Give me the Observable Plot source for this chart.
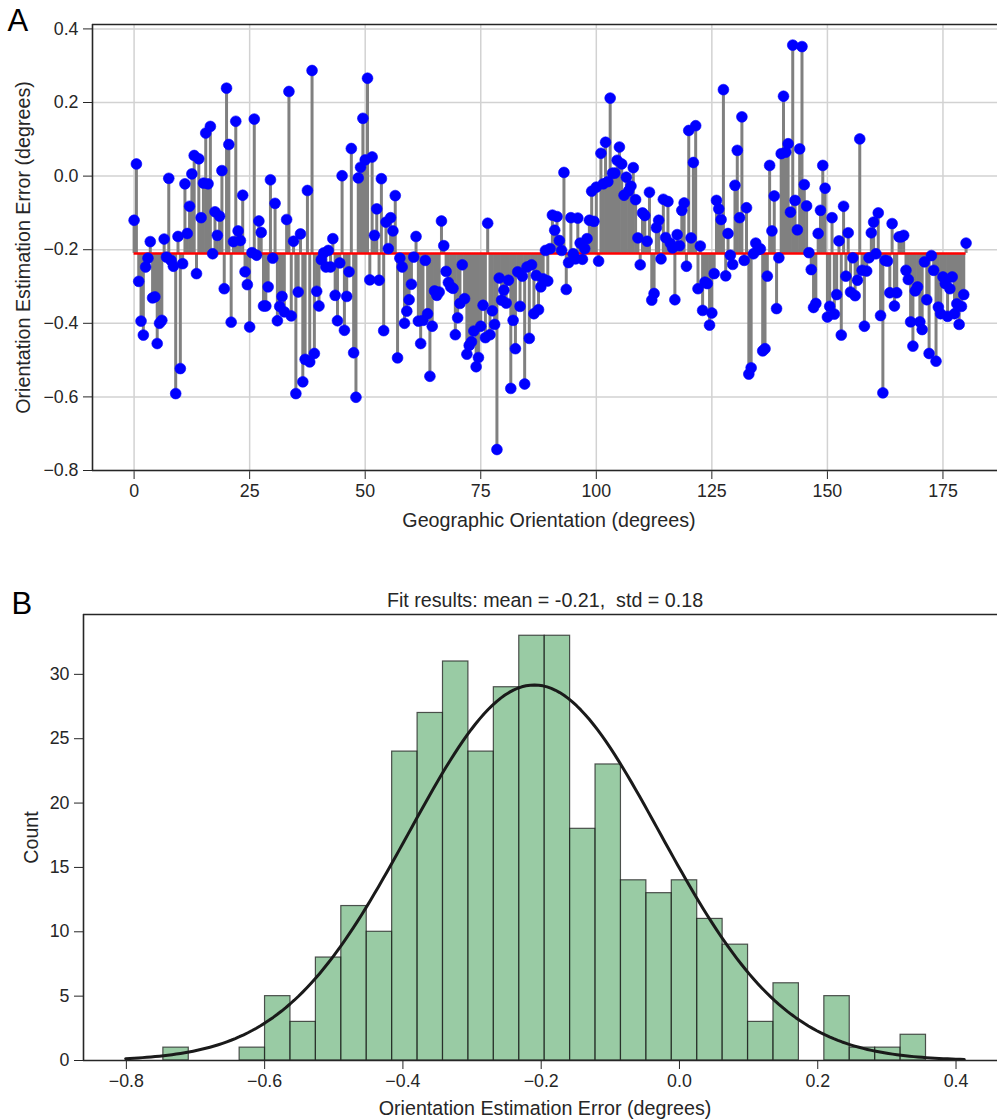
<!DOCTYPE html>
<html>
<head>
<meta charset="utf-8">
<script src="https://cdn.jsdelivr.net/npm/d3@7"></script>
<script src="https://cdn.jsdelivr.net/npm/@observablehq/plot@0.6"></script>
<style>
  body { margin: 0; background: #fff; }
  #wrap { position: relative; width: 997px; height: 1119px; overflow: hidden; }
  #wrap svg { display: block; }
</style>
</head>
<body>
<div id="wrap"></div>
<script>
// ---------- Panel A data ----------
const stepDeg = 0.5; // sampling of geographic orientation
const errors = [
 -0.120, 0.033, -0.286, -0.394, -0.432, -0.247, -0.223, -0.178, -0.331, -0.328,
 -0.455, -0.400, -0.392, -0.171, -0.220, -0.006, -0.229, -0.245, -0.591, -0.164,
 -0.523, -0.238, -0.021, -0.156, -0.082, 0.006, 0.056, -0.265, 0.047, -0.113,
 -0.019, 0.117, -0.021, 0.135, -0.211, -0.097, -0.161, -0.109, 0.015, -0.306,
 0.239, 0.086, -0.397, -0.178, 0.149, -0.149, -0.175, -0.052, -0.260, -0.295,
 -0.410, -0.208, 0.155, -0.215, -0.122, -0.153, -0.353, -0.353, -0.301, -0.010,
 -0.223, -0.074, -0.393, -0.354, -0.327, -0.369, -0.118, 0.230, -0.380, -0.177,
 -0.591, -0.315, -0.157, -0.559, -0.498, -0.039, -0.505, 0.287, -0.482, -0.313,
 -0.353, -0.227, -0.209, -0.247, -0.202, -0.247, -0.170, -0.324, -0.393, -0.236,
 0.001, -0.419, -0.327, -0.260, 0.075, -0.480, -0.601, -0.005, 0.024, 0.157,
 0.044, 0.266, -0.282, 0.052, -0.161, -0.089, -0.283, -0.007, -0.420, -0.125,
 -0.197, -0.113, -0.149, -0.053, -0.494, -0.223, -0.247, -0.400, -0.367, -0.336,
 -0.294, -0.220, -0.164, -0.394, -0.455, -0.392, -0.229, -0.374, -0.544, -0.408,
 -0.312, -0.324, -0.315, -0.122, -0.189, -0.259, -0.289, -0.301, -0.305, -0.431,
 -0.385, -0.346, -0.241, -0.333, -0.484, -0.460, -0.450, -0.421, -0.518, -0.493,
 -0.408, -0.351, -0.439, -0.128, -0.431, -0.366, -0.403, -0.743, -0.277, -0.337,
 -0.310, -0.345, -0.283, -0.577, -0.392, -0.469, -0.260, -0.354, -0.272, -0.565,
 -0.247, -0.441, -0.241, -0.374, -0.270, -0.363, -0.301, -0.279, -0.202, -0.285,
 -0.197, -0.106, -0.147, -0.110, -0.175, -0.202, 0.010, -0.308, -0.235, -0.113,
 -0.211, -0.225, -0.114, -0.182, -0.226, -0.197, -0.170, -0.120, -0.041, -0.123,
 -0.030, -0.231, 0.062, -0.021, 0.092, -0.015, 0.212, 0.008, 0.008, 0.043,
 0.079, 0.033, -0.052, -0.003, -0.040, -0.027, 0.023, -0.064, -0.168, -0.241,
 -0.100, -0.107, -0.177, -0.044, -0.337, -0.319, -0.140, -0.120, -0.225, -0.063,
 -0.167, -0.069, -0.182, -0.195, -0.336, -0.159, -0.189, -0.093, -0.073, -0.245,
 0.124, -0.168, 0.037, 0.137, -0.306, -0.190, -0.365, -0.288, -0.292, -0.405,
 -0.372, -0.265, -0.066, -0.089, -0.118, 0.235, -0.271, -0.156, -0.215, -0.240,
 -0.025, 0.070, -0.113, 0.161, -0.229, -0.086, -0.538, -0.521, -0.211, -0.182,
 -0.200, -0.198, -0.475, -0.469, -0.272, 0.029, -0.149, -0.054, -0.360, -0.222,
 0.061, 0.217, 0.065, 0.088, -0.098, 0.356, -0.066, -0.146, 0.074, 0.352,
 -0.023, -0.081, -0.208, -0.254, -0.357, -0.346, -0.156, -0.093, 0.029, -0.033,
 -0.383, -0.354, -0.113, -0.375, -0.322, -0.176, -0.432, -0.082, -0.272, -0.154,
 -0.315, -0.222, -0.325, -0.283, 0.101, -0.256, -0.408, -0.258, -0.222, -0.154,
 -0.125, -0.211, -0.100, -0.379, -0.589, -0.229, -0.231, -0.317, -0.129, -0.353,
 -0.317, -0.165, -0.165, -0.161, -0.256, -0.281, -0.396, -0.462, -0.312, -0.301,
 -0.396, -0.417, -0.233, -0.336, -0.482, -0.216, -0.256, -0.503, -0.356, -0.374,
 -0.274, -0.292, -0.381, -0.306, -0.274, -0.374, -0.347, -0.403, -0.354, -0.322,
 -0.182
];
const xTicksA = [0, 25, 50, 75, 100, 125, 150, 175];
const yTicksA = [-0.8, -0.6, -0.4, -0.2, 0.0, 0.2, 0.4];

// ---------- Panel B data ----------
const binStart = -0.7465;
const binWidth = 0.03677;
const binCounts = [1, 0, 0, 1, 5, 3, 8, 12, 10, 24, 27, 31, 24, 29, 33, 33, 18, 23, 14, 13, 14, 11, 9, 3, 6, 0, 5, 1, 1, 2];
const xTicksB = [-0.8, -0.6, -0.4, -0.2, 0.0, 0.2, 0.4];
const yTicksB = [0, 5, 10, 15, 20, 25, 30];
const fitMean = -0.21;
const fitStd = 0.1815;
const curveRange = [-0.801, 0.412];

const titleB = "Fit results: mean = -0.21,  std = 0.18";
const FONT = "'Liberation Sans', Arial, Helvetica, sans-serif";
const INK = "#262626";
const fmt1 = d3.format(".1f");

// ---------- build tables ----------
const points = errors.map((v, i) => ({x: i * stepDeg, y: v}));
const bars = binCounts.map((c, i) => ({x1: binStart + i * binWidth, x2: binStart + (i + 1) * binWidth, count: c}));
const nTotal = d3.sum(binCounts);
const curve = d3.range(200).map(i => {
  const x = curveRange[0] + (curveRange[1] - curveRange[0]) * i / 199;
  const pdf = Math.exp(-0.5 * ((x - fitMean) / fitStd) ** 2) / (fitStd * Math.sqrt(2 * Math.PI));
  return {x, y: nTotal * binWidth * pdf};
});

const wrap = document.getElementById("wrap");

// ---------- Panel A ----------
const plotA = Plot.plot({
  width: 997, height: 560,
  marginLeft: 92, marginRight: 0, marginTop: 24, marginBottom: 90,
  style: {fontFamily: FONT, fontSize: "17.8px", color: INK, background: "#fff", overflow: "visible"},
  x: {domain: [-9, 186.8], ticks: xTicksA, tickSize: 9, tickPadding: 5, tickFormat: d => String(d), label: null},
  y: {domain: [-0.8, 0.412], ticks: yTicksA, tickSize: 9, tickPadding: 5, tickFormat: fmt1, label: null},
  marks: [
    Plot.ruleX(xTicksA, {stroke: "#d2d2d2", strokeWidth: 1.5}),
    Plot.ruleY(yTicksA, {stroke: "#d2d2d2", strokeWidth: 1.5}),
    Plot.ruleX(points, {x: "x", y1: fitMean, y2: "y", stroke: "#808080", strokeWidth: 3}),
    Plot.ruleY([fitMean], {x1: 0, x2: 180, stroke: "#ff0000", strokeWidth: 2.5}),
    Plot.dot(points, {x: "x", y: "y", r: 5.4, fill: "#0000ff", stroke: "#0000ff", strokeWidth: 0.6}),
    Plot.ruleX([-9], {stroke: INK, strokeWidth: 1.6}),
    Plot.ruleY([-0.8], {stroke: INK, strokeWidth: 1.6}),
    Plot.ruleY([0.412], {stroke: INK, strokeWidth: 1.6}),
    Plot.text(["Orientation Estimation Error (degrees)"], {text: d => d, frameAnchor: "left", textAnchor: "middle", lineAnchor: "middle", dx: -69, rotate: -90, fontSize: 19.7, fill: INK}),
    Plot.text(["Geographic Orientation (degrees)"], {text: d => d, frameAnchor: "bottom", textAnchor: "middle", lineAnchor: "middle", dx: 4, dy: 50, fontSize: 19.7, fill: INK}),
    Plot.text(["A"], {text: d => d, frameAnchor: "top-left", textAnchor: "start", lineAnchor: "top", dx: -85, dy: -16, fontSize: 31, fill: "#000"})
  ]
});
wrap.appendChild(plotA);

// ---------- Panel B ----------
const plotB = Plot.plot({
  width: 997, height: 559,
  marginLeft: 83, marginRight: 0, marginTop: 54, marginBottom: 59,
  style: {fontFamily: FONT, fontSize: "17.8px", color: INK, background: "#fff", overflow: "visible"},
  x: {domain: [-0.862, 0.46], ticks: xTicksB, tickSize: 9, tickPadding: 5, tickFormat: fmt1, label: null},
  y: {domain: [0, 34.65], ticks: yTicksB, tickSize: 9, tickPadding: 5, tickFormat: d => String(d), label: null},
  marks: [
    Plot.rectY(bars, {x1: "x1", x2: "x2", y: "count", fill: "#55a868", fillOpacity: 0.6, stroke: "#1e1e1e", strokeOpacity: 0.75, strokeWidth: 1.2}),
    Plot.line(curve, {x: "x", y: "y", stroke: "#1a1a1a", strokeWidth: 3}),
    Plot.ruleX([-0.862], {stroke: INK, strokeWidth: 1.6}),
    Plot.ruleY([0], {stroke: INK, strokeWidth: 1.6}),
    Plot.ruleY([34.65], {stroke: INK, strokeWidth: 1.6}),
    Plot.text([titleB], {text: d => d, frameAnchor: "top", textAnchor: "middle", lineAnchor: "middle", dx: 4.5, dy: -14, fontSize: 19.7, fill: INK}),
    Plot.text(["Count"], {text: d => d, frameAnchor: "left", textAnchor: "middle", lineAnchor: "middle", dx: -52, rotate: -90, fontSize: 19.7, fill: INK}),
    Plot.text(["Orientation Estimation Error (degrees)"], {text: d => d, frameAnchor: "bottom", textAnchor: "middle", lineAnchor: "middle", dx: 4.5, dy: 48, fontSize: 19.7, fill: INK}),
    Plot.text(["B"], {text: d => d, frameAnchor: "top-left", textAnchor: "start", lineAnchor: "top", dx: -72, dy: -23, fontSize: 31, fill: "#000"})
  ]
});
wrap.appendChild(plotB);
</script>
</body>
</html>
